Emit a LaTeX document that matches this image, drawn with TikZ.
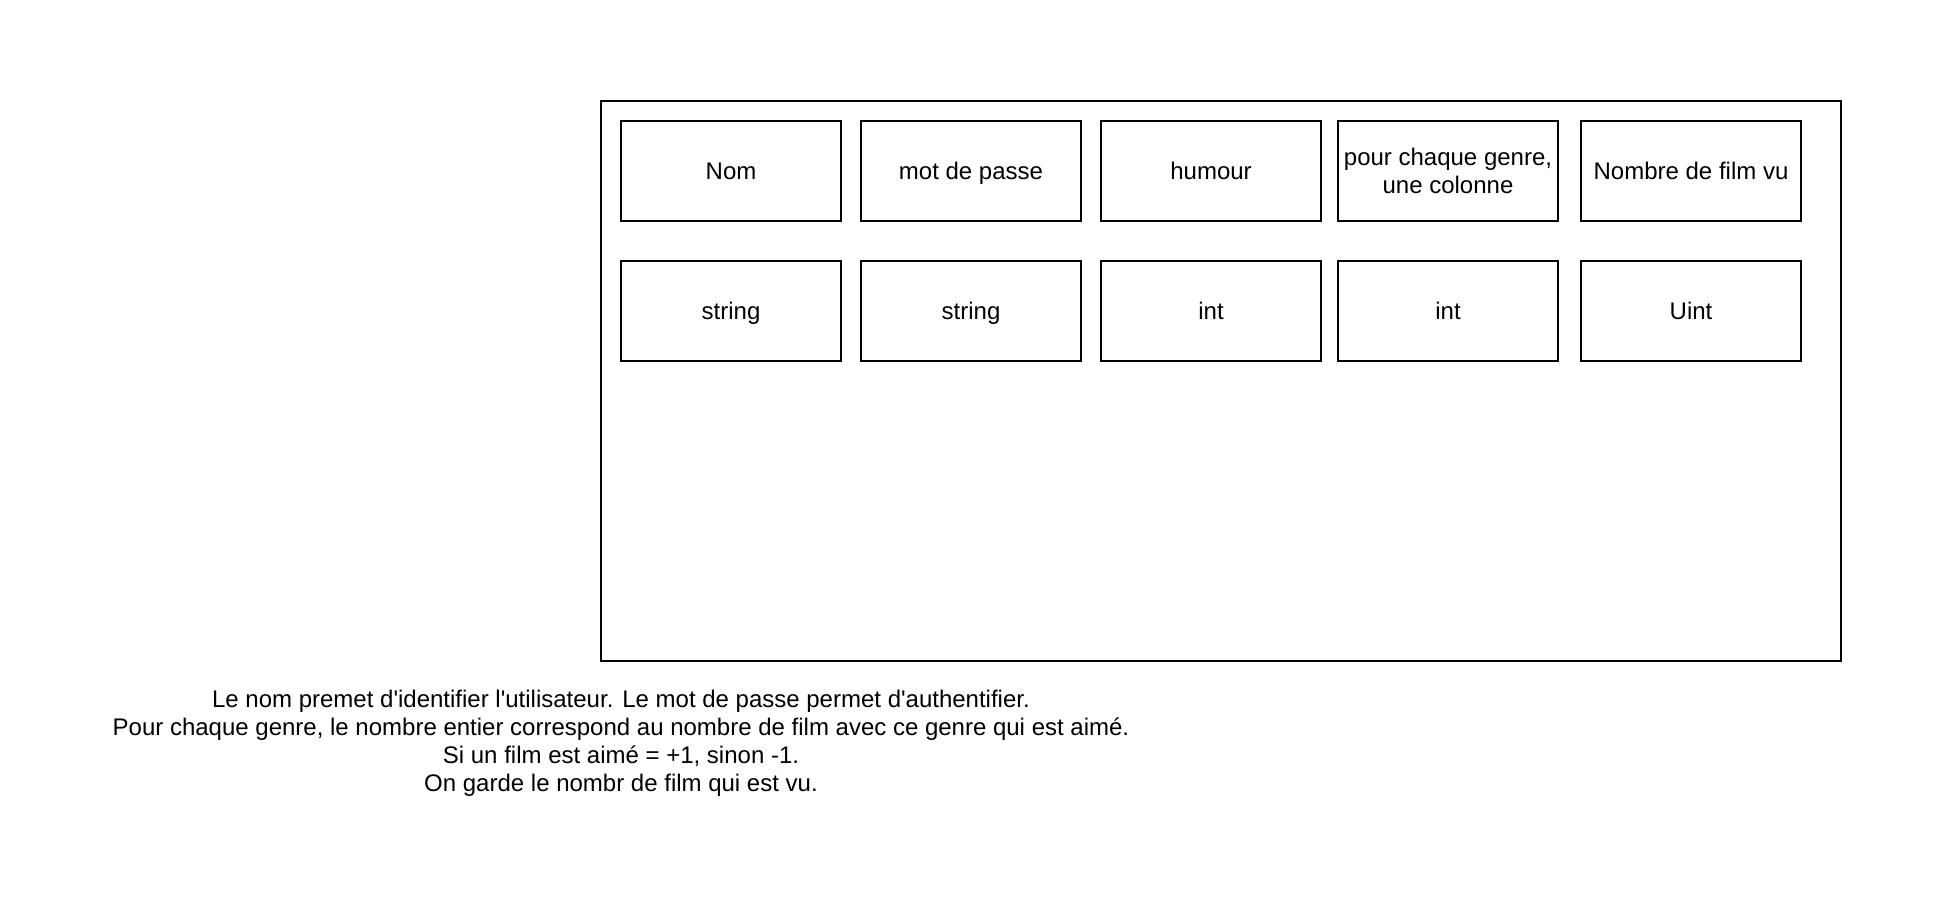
\documentclass[tikz,border=0pt]{standalone}
\usepackage{fontspec}
\setmainfont{Liberation Sans}
\newcommand{\sq}{\textquotesingle}
\begin{document}
\begin{tikzpicture}[x=0.5pt,y=-0.5pt,
  field/.style={draw=black,line width=1pt,minimum width=110pt,minimum height=50pt,inner sep=0pt,align=center,font=\fontsize{12pt}{14.4pt}\selectfont,text height=10pt,text depth=1.4pt},
  twoline/.style={text height=,text depth=},
  frame/.style={draw=black,line width=1pt}]
\useasboundingbox[fill=white] (0,0) rectangle (1942,902);
\draw[frame] (601,101) rectangle (1841,661);
\node[field] (nom)  at (731,171) {Nom};
\node[field] (mdp)  at (971,171) {mot de passe};
\node[field] (hum)  at (1211,171) {humour};
\node[field,twoline] (pcg)  at (1448,171) {pour chaque genre,\\une colonne};
\node[field] (nfv)  at (1691,171) {Nombre de film vu};
\node[field] (t1)   at (731,311) {string};
\node[field] (t2)   at (971,311) {string};
\node[field] (t3)   at (1211,311) {int};
\node[field] (t4)   at (1448,311) {int};
\node[field] (t5)   at (1691,311) {Uint};
\node[anchor=north,inner sep=0pt,align=center,font=\fontsize{12pt}{14pt}\selectfont] (desc) at (621,690)
 {Le nom premet d\sq identifier l\sq utilisateur. Le mot de passe permet d\sq authentifier.\\
  Pour chaque genre, le nombre entier correspond au nombre de film avec ce genre qui est aimé.\\
  Si un film est aimé = +1, sinon -1.\\
  On garde le nombr de film qui est vu.};
\end{tikzpicture}
\end{document}
